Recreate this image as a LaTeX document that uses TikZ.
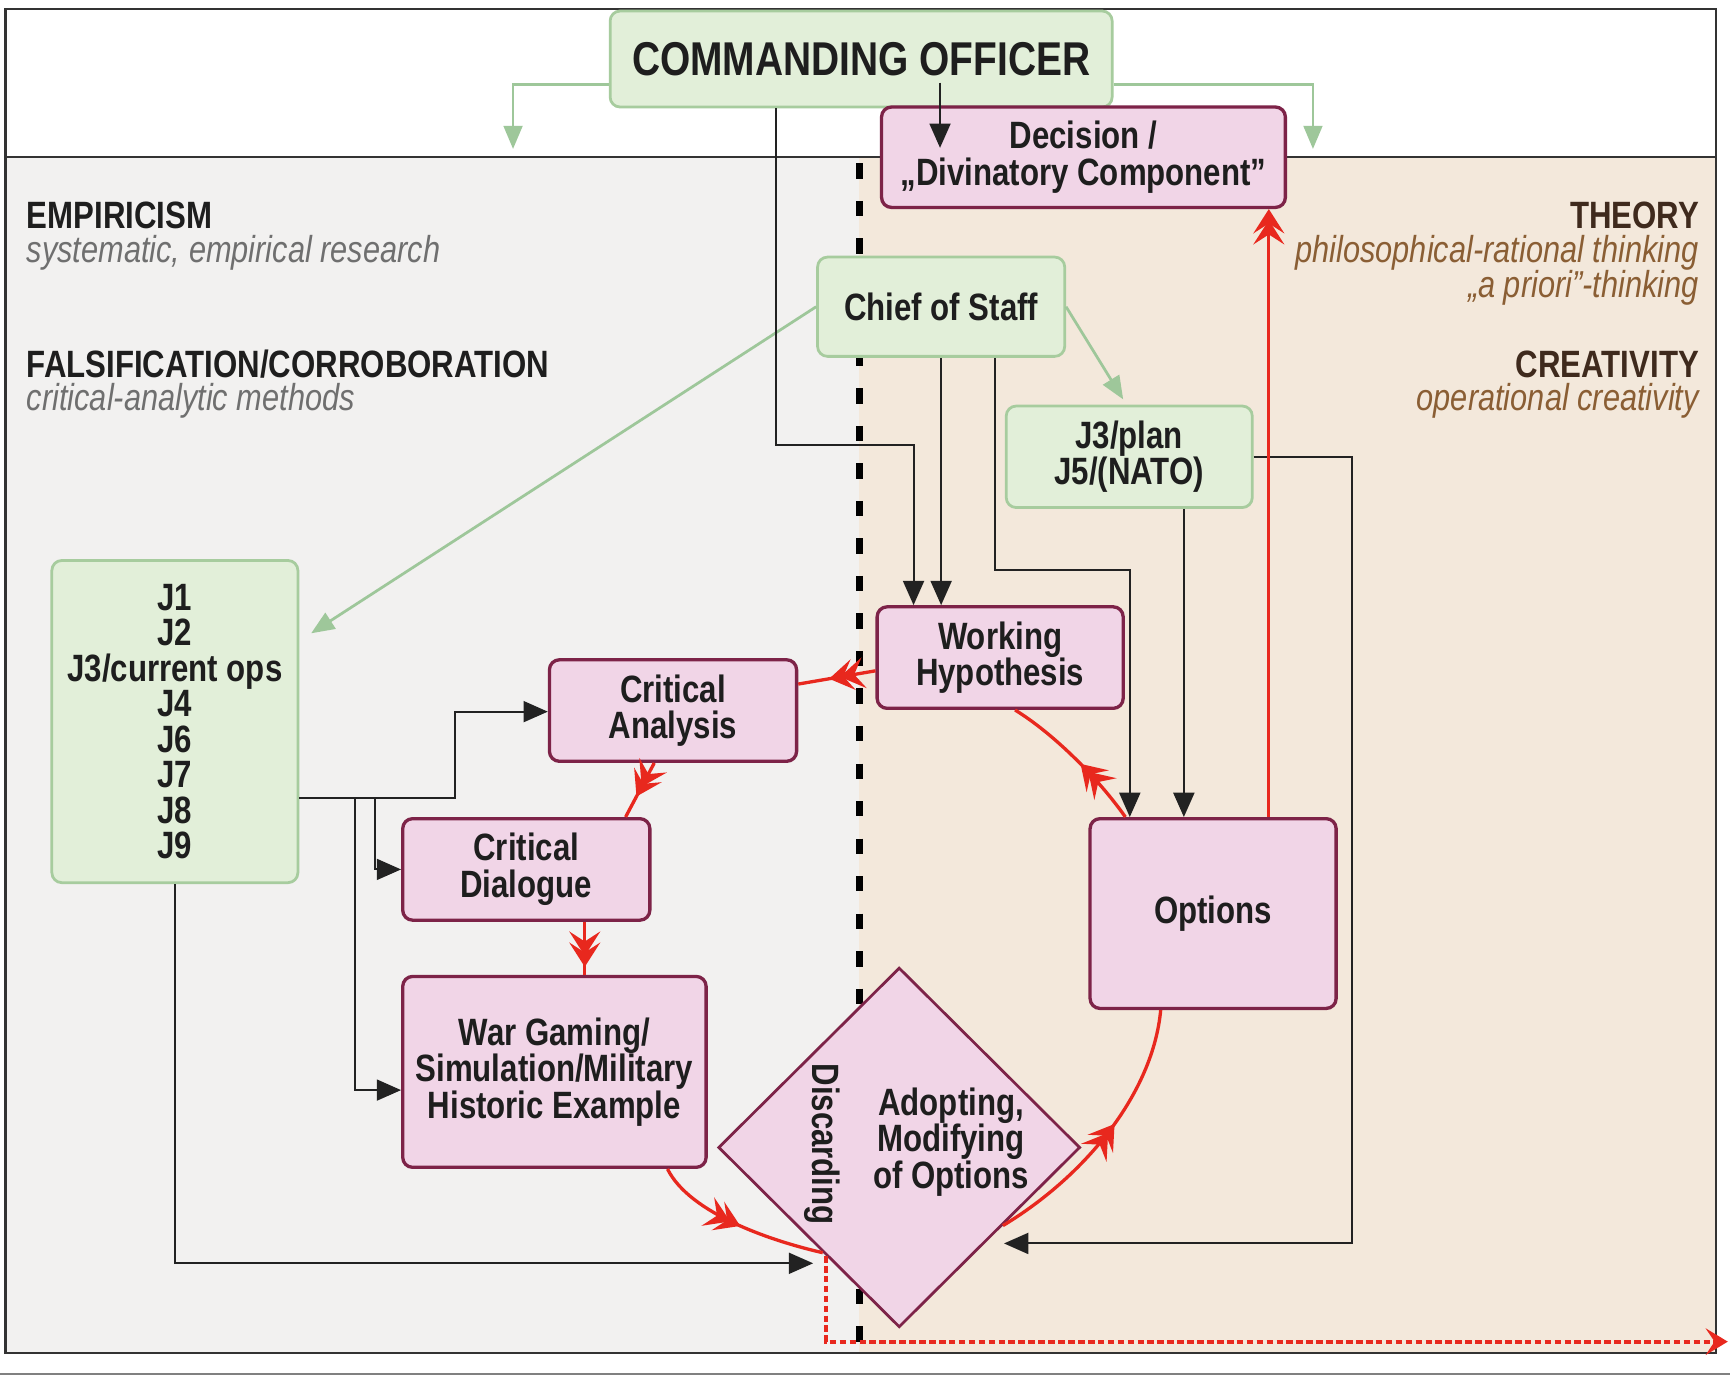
\documentclass[tikz,border=0pt]{standalone}
\usepackage{fontspec}
\setmainfont{Liberation Sans}[FakeStretch=0.82]
\usetikzlibrary{arrows.meta,shapes.geometric,decorations.markings,calc}
\definecolor{gfill}{HTML}{E2EFD9}
\definecolor{gline}{HTML}{A7CC9E}
\definecolor{garrow}{HTML}{9EC79A}
\definecolor{pfill}{HTML}{F1D5E7}
\definecolor{pline}{HTML}{7D2348}
\definecolor{redc}{HTML}{E8281E}
\definecolor{txt}{HTML}{1E1E1E}
\definecolor{blackc}{HTML}{222222}
\definecolor{lbg}{HTML}{F2F1F0}
\definecolor{rbg}{HTML}{F3E8DB}
\definecolor{grayit}{HTML}{6F6F6F}
\definecolor{brownd}{HTML}{3F2A1D}
\definecolor{brownit}{HTML}{8A5E34}
\definecolor{framec}{HTML}{333333}
\tikzset{
  redtip/.tip={Stealth[length=22pt,width=28pt,inset=9pt,color=redc,sep=-12pt]Stealth[length=22pt,width=28pt,inset=9pt,color=redc]},
  midarr/.style={postaction={decorate,decoration={markings,mark=at position #1 with {\arrow{redtip}}}}},
}
\begin{document}
\begin{tikzpicture}[x=1pt,y=-1pt,
  every node/.style={font=\fontsize{34.5}{33}\selectfont\bfseries, text=txt, inner sep=0pt},
  gbox/.style={draw=gline, fill=gfill, line width=2.5pt, rounded corners=9pt, align=center},
  pbox/.style={draw=pline, fill=pfill, line width=3pt, rounded corners=9pt, align=center},
  blk/.style={draw=blackc, line width=1.8pt, -{Triangle[length=22pt,width=19pt]}},
  grn/.style={draw=garrow, line width=2.5pt, -{Triangle[length=21pt,width=17pt]}},
  redline/.style={draw=redc, line width=3pt},
  reddash/.style={draw=redc, line width=3.5pt, dash pattern=on 6pt off 3pt},
  lab/.style={text=txt, text depth=0pt},
  labit/.style={text=grayit, font=\fontsize{34}{33}\selectfont\itshape, text height=24pt, text depth=4pt},
  rlab/.style={text=brownd, text depth=0pt},
  rlabit/.style={text=brownit, font=\fontsize{34}{33}\selectfont\itshape, text height=24pt, text depth=4pt},
]
\useasboundingbox (0,0) rectangle (1568,1247);
\fill[white] (0,0) rectangle (1568,1247);
% backgrounds
\fill[white] (5,8) rectangle (1555,142);
\fill[lbg] (5,142) rectangle (779,1226);
\fill[rbg] (779,142) rectangle (1555,1226);
\draw[framec, line width=2pt] (5,8) rectangle (1555,1226);
\draw[framec, line width=2pt] (5,142) -- (1555,142);
\draw[gray, line width=2pt] (0,1245) -- (1568,1245);
\draw[black, line width=6pt, dash pattern=on 14pt off 20pt] (779,148) -- (779,1226);

% side labels
\node[lab, anchor=base west] (emp) at (24,207) {EMPIRICISM};
\node[labit, anchor=base west] (empS) at (24,238) {systematic, empirical research};
\node[lab, anchor=base west] (fal) at (24,342) {FALSIFICATION/CORROBORATION};
\node[labit, anchor=base west] (falS) at (24,372) {critical-analytic methods};
\node[rlab, anchor=base east] (theo) at (1540,207) {THEORY};
\node[rlabit, anchor=base east] (theoS) at (1540,238) {philosophical-rational thinking};
\node[rlabit, anchor=base east] (theoT) at (1540,270) {„a priori”-thinking};
\node[rlab, anchor=base east] (crea) at (1540,342) {CREATIVITY};
\node[rlabit, anchor=base east] (creaS) at (1540,372) {operational creativity};

% nodes
\node[gbox, minimum width=455pt, minimum height=87pt, font=\fontsize{43}{43}\selectfont\bfseries] (CO) at (780.5,53.5) {COMMANDING OFFICER};
\node[pbox, minimum width=366pt, minimum height=91pt] (Dec) at (982,142.5) {Decision /\\„Divinatory Component”};
\node[gbox, minimum width=224pt, minimum height=90pt] (CoS) at (853,278) {Chief of Staff};
\node[gbox, minimum width=223pt, minimum height=92pt] (J3) at (1023.5,414) {J3/plan\\J5/(NATO)};
\node[gbox, minimum width=223pt, minimum height=292pt, font=\fontsize{34.5}{32.2}\selectfont\bfseries] (J) at (158.5,654) {J1\\J2\\J3/current ops\\J4\\J6\\J7\\J8\\J9};
\node[pbox, minimum width=223pt, minimum height=92pt] (WH) at (906.5,596) {Working\\Hypothesis};
\node[pbox, minimum width=224pt, minimum height=92pt] (CA) at (610,644) {Critical\\Analysis};
\node[pbox, minimum width=224pt, minimum height=92pt] (CD) at (477,788) {Critical\\Dialogue};
\node[pbox, minimum width=275pt, minimum height=173pt] (WG) at (502.5,971.5) {War Gaming/\\Simulation/Military\\Historic Example};
\node[pbox, minimum width=223pt, minimum height=172pt] (Opt) at (1099.5,828) {Options};
\node[diamond, draw=pline, fill=pfill, line width=2.5pt, minimum width=328pt, minimum height=326pt] (Dia) at (815,1040) {};
\node[align=center] (adopt) at (862,1035) {Adopting,\\Modifying\\of Options};
\node[rotate=-90] (disc) at (745,1037) {Discarding};

% coordinates
\coordinate (gL) at (465,135);
\coordinate (gR) at (1190,135);
\coordinate (jtip) at (282,574);
\coordinate (j3tip) at (1018,362);
\coordinate (k1) at (852,75);
\coordinate (k2) at (852,134);
\coordinate (a1) at (703,403);
\coordinate (a2) at (828,403);
\coordinate (b1) at (902,517);
\coordinate (b2) at (1024,517);
\coordinate (b3) at (1073,600);
\coordinate (e1) at (1225,413);
\coordinate (e2) at (1225,1127);
\coordinate (e3) at (910,1127);
\coordinate (f1) at (412,723);
\coordinate (f2) at (412,645);
\coordinate (f3) at (322,723);
\coordinate (f4) at (322,988);
\coordinate (f5) at (340,723);
\coordinate (h1) at (158,1145);
\coordinate (h2) at (737,1145);
\coordinate (r1) at (1150,450);
\coordinate (q1) at (749,1216);
\coordinate (q2) at (1566,1216);

% green connectors
\draw[grn] ([yshift=22pt]CO.south west) -| (gL);
\draw[grn] ([yshift=22pt]CO.south east) -| (gR);
\draw[grn] (CoS.west) -- (jtip);
\draw[grn] (CoS.east) -- (j3tip);

% black connectors
\draw[blk] (k1) -- (k2);
\draw[blk] (CO.south -| a1) -- (a1) -- (a2) -- (WH.north -| a2);
\draw[blk] (CoS.south) -- (WH.north -| CoS.south);
\draw[blk] (CoS.south -| b1) -- (b1) -- (b2) -- (Opt.north -| b2);
\draw[blk] (J3.south -| b3) -- (Opt.north -| b3);
\draw[blk] (J3.east) -- (J3.east -| e1) -- (e2) -- (e3);
\draw[blk] (J.east |- f1) -- (f1) -- (f2) -- (CA.west |- f2);
\draw[blk] (f3) -- (f4) -- (WG.west |- f4);
\draw[blk] (f5) -- (CD.west -| f5) -- (CD.west);
\draw[blk] (J.south) -- (J.south |- h1) -- (h2);

% red connectors
\draw[redline, -{redtip}] (Opt.north -| r1) -- (Dec.south -| r1);
\draw[redline, midarr=0.6] ([yshift=-12pt]WH.west) -- ([yshift=24pt]CA.east);
\draw[redline, midarr=0.62] ([xshift=-17pt]CA.south) -- ([xshift=90pt]CD.north);
\draw[redline, midarr=0.85] ([xshift=53pt]CD.south) -- ([xshift=53pt]CD.south |- WG.north);
\draw[redline, midarr=0.52] ([xshift=102.5pt]WG.south) .. controls (625,1100) and (700,1125) .. (Dia.234);
\draw[redline, midarr=0.55] (Dia.-37) .. controls (985,1065) and (1045,990) .. ([xshift=-47.5pt]Opt.south);
\draw[redline, midarr=0.45] ([xshift=-79.5pt]Opt.north) .. controls (995,705) and (955,665) .. ([xshift=13.5pt]WH.south);
\draw[reddash, -{Stealth[length=20pt,width=24pt,inset=8pt,color=redc]}] (Dia.236.5) -- (Dia.236.5 |- q1) -- (q2);
\end{tikzpicture}
\end{document}
